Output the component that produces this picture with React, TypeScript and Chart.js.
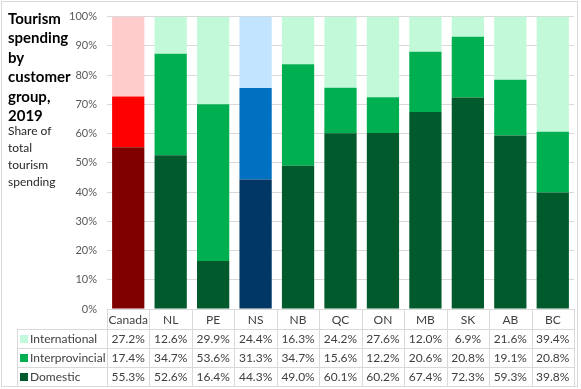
import React, { useEffect, useRef } from "react";
import { Chart, registerables } from "chart.js";

Chart.register(...registerables);

const categories = ["Canada", "NL", "PE", "NS", "NB", "QC", "ON", "MB", "SK", "AB", "BC"];
const international = [27.2, 12.6, 29.9, 24.4, 16.3, 24.2, 27.6, 12.0, 6.9, 21.6, 39.4];
const interprovincial = [17.4, 34.7, 53.6, 31.3, 34.7, 15.6, 12.2, 20.6, 20.8, 19.1, 20.8];
const domestic = [55.3, 52.6, 16.4, 44.3, 49.0, 60.1, 60.2, 67.4, 72.3, 59.3, 39.8];
const seriesNames = ["International", "Interprovincial", "Domestic"];
const titleLines = ["Tourism", "spending", "by", "customer", "group,", "2019"];
const subtitleLines = ["Share of", "total", "tourism", "spending"];

const GREEN = { dark: "#005A2B", mid: "#00B050", light: "#C2FAD9" };
const RED = { dark: "#800000", mid: "#FF0000", light: "#FFCCCC" };
const BLUE = { dark: "#003764", mid: "#0070C0", light: "#C2E4FF" };

const palette = (cat: string) => (cat === "Canada" ? RED : cat === "NS" ? BLUE : GREEN);

const FONT = "Lato, 'Noto Sans', sans-serif";
const GRID = "#D9D9D9";
const TEXT = "#404040";

const tablePlugin = {
  id: "tablePlugin",
  afterDraw(chart: any) {
    const ctx = chart.ctx as CanvasRenderingContext2D;
    const x = chart.scales.x;
    const area = chart.chartArea;
    const n = categories.length;
    const step = (area.right - area.left) / n;
    const top = area.bottom;
    const headerH = 20;
    const rowH = 19;
    const legendLeft = 17;
    const rowTops = [top + headerH, top + headerH + rowH, top + headerH + rowH * 2];
    const bottom = top + headerH + rowH * 3;
    const rows = [international, interprovincial, domestic];
    const swatches = [GREEN.light, GREEN.mid, GREEN.dark];

    ctx.save();
    // outer border
    ctx.strokeStyle = GRID;
    ctx.lineWidth = 1;
    ctx.strokeRect(1.5, 1.5, 576, 385);

    // table lines
    ctx.beginPath();
    for (let i = 0; i <= n; i++) {
      const px = Math.round(area.left + i * step) + 0.5;
      ctx.moveTo(px, top);
      ctx.lineTo(px, bottom);
    }
    rowTops.forEach((ry) => {
      ctx.moveTo(legendLeft, Math.round(ry) + 0.5);
      ctx.lineTo(area.right, Math.round(ry) + 0.5);
    });
    ctx.moveTo(legendLeft, bottom + 0.5);
    ctx.lineTo(area.right, bottom + 0.5);
    ctx.moveTo(legendLeft + 0.5, rowTops[0]);
    ctx.lineTo(legendLeft + 0.5, bottom);
    ctx.stroke();

    // header
    ctx.fillStyle = TEXT;
    ctx.font = `12px ${FONT}`;
    ctx.textAlign = "center";
    ctx.textBaseline = "middle";
    categories.forEach((c, i) => {
      ctx.fillText(c, x.getPixelForValue(i), top + headerH / 2 + 1);
    });
    // rows
    rows.forEach((vals, r) => {
      const cy = rowTops[r] + rowH / 2 + 1;
      ctx.textAlign = "center";
      ctx.fillStyle = TEXT;
      vals.forEach((v, i) => {
        ctx.fillText(v.toFixed(1) + "%", x.getPixelForValue(i), cy);
      });
      ctx.fillStyle = swatches[r];
      ctx.fillRect(20, Math.round(cy - 5), 8, 8);
      ctx.fillStyle = TEXT;
      ctx.textAlign = "left";
      ctx.fillText(seriesNames[r], 30, cy);
    });

    // title
    ctx.fillStyle = "#000000";
    ctx.textAlign = "left";
    ctx.textBaseline = "middle";
    ctx.font = `bold 15px ${FONT}`;
    titleLines.forEach((t, i) => ctx.fillText(t, 8, 19 + i * 19.5));
    ctx.fillStyle = "#262626";
    ctx.font = `12px ${FONT}`;
    subtitleLines.forEach((t, i) => ctx.fillText(t, 8, 131 + i * 17));
    ctx.restore();
  },
};

export default function App() {
  const ref = useRef<HTMLCanvasElement>(null);
  useEffect(() => {
    if (!ref.current) return;
    const mk = (key: "dark" | "mid" | "light") => categories.map((c) => palette(c)[key]);
    const chart = new Chart(ref.current, {
      type: "bar",
      data: {
        labels: categories,
        datasets: [
          { label: seriesNames[2], data: domestic, backgroundColor: mk("dark"), barPercentage: 0.76, categoryPercentage: 1 },
          { label: seriesNames[1], data: interprovincial, backgroundColor: mk("mid"), barPercentage: 0.76, categoryPercentage: 1 },
          { label: seriesNames[0], data: international, backgroundColor: mk("light"), barPercentage: 0.76, categoryPercentage: 1 },
        ],
      },
      options: {
        animation: false,
        responsive: true,
        maintainAspectRatio: false,
        layout: { padding: { top: 9, right: 7, bottom: 80, left: 0 } },
        plugins: { legend: { display: false }, tooltip: { enabled: false } },
        scales: {
          x: { stacked: true, display: false },
          y: {
            stacked: true,
            min: 0,
            max: 100,
            afterFit: (s: any) => {
              s.width = 107;
            },
            ticks: {
              stepSize: 10,
              padding: 10,
              color: "#595959",
              font: { family: FONT, size: 11 },
              callback: (v: any) => `${v}%`,
            },
            grid: { color: GRID, drawTicks: false },
            border: { display: false },
          },
        },
      },
      plugins: [tablePlugin],
    });
    return () => chart.destroy();
  }, []);
  return (
    <div style={{ position: "fixed", left: 0, top: 0, width: 581, height: 389, background: "#fff" }}>
      <canvas ref={ref} />
    </div>
  );
}
